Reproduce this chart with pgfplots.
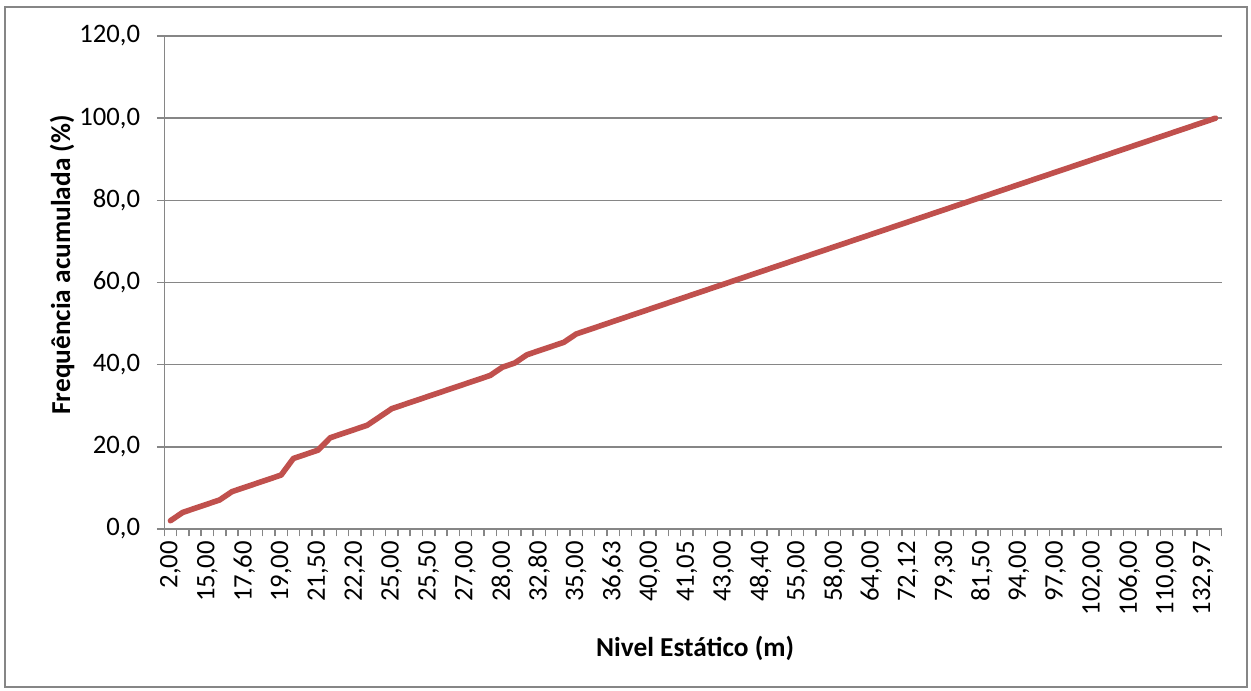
\documentclass[border=0pt]{standalone}
\usepackage{fontspec}
\setmainfont{Carlito}
\usepackage{pgfplots}
\pgfplotsset{compat=1.18}
\definecolor{exred}{RGB}{192,80,77}
\definecolor{exgray}{RGB}{134,134,134}
\begin{document}
\begin{tikzpicture}[x=0.75pt,y=0.75pt]
\path[use as bounding box] (0,0) rectangle (1251,690);
\draw[exgray, line width=1.2pt] (5,3) rectangle (1247,683);
\begin{axis}[
  at={(123.225pt,120.75pt)}, anchor=south west,
  scale only axis, width=793.05pt, height=369.75pt,
  xmin=-0.5, xmax=85.5, ymin=0, ymax=120,
  ytick={0,20,...,120},
  minor ytick={0,20,...,120},
  xtick={0,3,...,84},
  minor xtick={-0.5,0.5,...,85.5},
  xticklabels={{2,00},{15,00},{17,60},{19,00},{21,50},{22,20},{25,00},{25,50},{27,00},{28,00},{32,80},{35,00},{36,63},{40,00},{41,05},{43,00},{48,40},{55,00},{58,00},{64,00},{72,12},{79,30},{81,50},{94,00},{97,00},{102,00},{106,00},{110,00},{132,97}},
  axis x line*=bottom, axis y line*=left,
  ymajorgrids,
  major grid style={exgray, line width=1.1pt},
  axis line style={exgray, line width=1.1pt, -},
  every tick/.style={exgray, line width=1.1pt},
  tick align=outside,
  major tick length=0pt,
  minor tick length=5.5pt,
  tick label style={font=\fontsize{20}{22}\selectfont, text=black},
  xticklabel style={rotate=90, anchor=east, inner sep=0pt},
  xticklabel shift=9pt,
  yticklabel style={anchor=east, inner sep=0pt, /pgf/number format/.cd, fixed, fixed zerofill, precision=1, use comma, assume math mode=true},
  yticklabel shift=18pt,
  xlabel={Nivel Estático (m)},
  ylabel={Frequência acumulada (\%)},
  every axis x label/.style={at={(axis description cs:0.502,-0.2414)}, anchor=center, font=\bfseries\fontsize{20.5}{22}\selectfont},
  every axis y label/.style={at={(axis description cs:-0.0967,0.5355)}, rotate=90, anchor=center, font=\bfseries\fontsize{20.5}{22}\selectfont},
]
\addplot[exred, line width=4.2pt, line join=round, line cap=round] coordinates {
(0,2.02) (1,4.04) (2,5.05) (3,6.06) (4,7.07) (5,9.09) (6,10.10) (7,11.11) (8,12.12) (9,13.13)
(10,17.17) (11,18.18) (12,19.19) (13,22.22) (14,23.23) (15,24.24) (16,25.25) (17,27.27) (18,29.29) (19,30.30)
(20,31.31) (21,32.32) (22,33.33) (23,34.34) (24,35.35) (25,36.36) (26,37.37) (27,39.39) (28,40.40) (29,42.42)
(30,43.43) (31,44.44) (32,45.45) (33,47.47) (34,48.48) (35,49.49) (36,50.51) (37,51.52) (38,52.53) (39,53.54)
(40,54.55) (41,55.56) (42,56.57) (43,57.58) (44,58.59) (45,59.60) (46,60.61) (47,61.62) (48,62.63) (49,63.64)
(50,64.65) (51,65.66) (52,66.67) (53,67.68) (54,68.69) (55,69.70) (56,70.71) (57,71.72) (58,72.73) (59,73.74)
(60,74.75) (61,75.76) (62,76.77) (63,77.78) (64,78.79) (65,79.80) (66,80.81) (67,81.82) (68,82.83) (69,83.84)
(70,84.85) (71,85.86) (72,86.87) (73,87.88) (74,88.89) (75,89.90) (76,90.91) (77,91.92) (78,92.93) (79,93.94)
(80,94.95) (81,95.96) (82,96.97) (83,97.98) (84,98.99) (85,100.00)
};
\end{axis}
\end{tikzpicture}
\end{document}
